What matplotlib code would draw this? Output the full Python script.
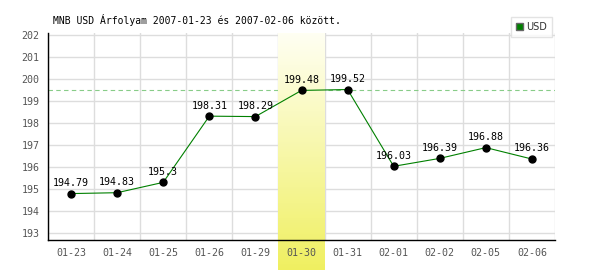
import numpy as np
import matplotlib
matplotlib.use("Agg")
import matplotlib.pyplot as plt
from matplotlib.patches import Patch

# chart data
dates = ["01-23", "01-24", "01-25", "01-26", "01-29", "01-30",
         "01-31", "02-01", "02-02", "02-05", "02-06"]
rates = [194.79, 194.83, 195.3, 198.31, 198.29, 199.48,
         199.52, 196.03, 196.39, 196.88, 196.36]
labels = ["194.79", "194.83", "195.3", "198.31", "198.29", "199.48",
          "199.52", "196.03", "196.39", "196.88", "196.36"]
highlight_idx = 5
ref_level = 199.48
title = "MNB USD Árfolyam 2007-01-23 és 2007-02-06 között."

MONO = "DejaVu Sans Mono"
GRAY = "#555555"

fig = plt.figure(figsize=(6, 2.7), dpi=100)
ax = fig.add_axes([48 / 600, 1 - 240 / 270, (555 - 48) / 600, (240 - 33) / 270])

x = np.arange(len(dates))
ylo, yhi = 192.68, 202.09

# highlighted day: gradient from near-white at top to yellow at bottom
grad = np.linspace(0, 1, 100).reshape(-1, 1)
top_c = np.array([1.0, 1.0, 0.95])
bot_c = np.array([0.94, 0.94, 0.38])
img = top_c + (bot_c - top_c) * grad[..., None]
img = img.reshape(100, 1, 3)
extra = 30 / 22.0  # extend below the axis to the bottom of the figure
ax.imshow(img, extent=(highlight_idx - 0.5, highlight_idx + 0.5, ylo - extra, yhi),
          aspect="auto", origin="upper", zorder=1, clip_on=False)

# grid
for yv in range(193, 203):
    ax.axhline(yv, color="#dddddd", lw=1, zorder=0.5)
for xv in np.arange(-0.5, len(dates), 1.0):
    ax.axvline(xv, color="#dddddd", lw=1, zorder=0.5)

# dashed level line sits behind the highlight
ax.axhline(ref_level, color="#88cc88", lw=0.8, ls=(0, (4, 3)), zorder=0.8)

ax.plot(x, rates, color="#008000", lw=0.8, zorder=3)
ax.plot(x, rates, "o", color="black", ms=5, zorder=4)

for xi, yi, lab in zip(x, rates, labels):
    ax.annotate(lab, (xi, yi), xytext=(0, 4), textcoords="offset points",
                ha="center", va="bottom", fontsize=7.2, family=MONO,
                color="black", zorder=5)

ax.set_xlim(-0.5, len(dates) - 0.5)
ax.set_ylim(ylo, yhi)
ax.set_xticks(x)
ax.set_xticklabels(dates)
ax.set_yticks(range(193, 203))
ax.tick_params(length=0, labelsize=7.2, labelcolor=GRAY, pad=6)
for t in ax.get_xticklabels() + ax.get_yticklabels():
    t.set_family(MONO)

ax.patch.set_visible(False)
for s in ["top", "right"]:
    ax.spines[s].set_visible(False)
for s in ["left", "bottom"]:
    ax.spines[s].set_color("black")
    ax.spines[s].set_linewidth(1)

fig.text(53 / 600, 1 - 20 / 270, title, family=MONO, fontsize=7,
         color="black", va="center", ha="left")

leg = ax.legend([Patch(facecolor="#008000", edgecolor="#666666")], ["USD"],
                loc="upper right", bbox_to_anchor=(552 / 600, 1 - 17 / 270),
                bbox_transform=fig.transFigure, borderaxespad=0,
                fontsize=7, frameon=True, fancybox=False,
                handlelength=0.8, handleheight=0.8, handletextpad=0.3,
                borderpad=0.5)
leg.get_frame().set_edgecolor("#dddddd")
leg.get_frame().set_linewidth(1)
for t in leg.get_texts():
    t.set_color("#333333")

fig.savefig("out.png", dpi=100)
